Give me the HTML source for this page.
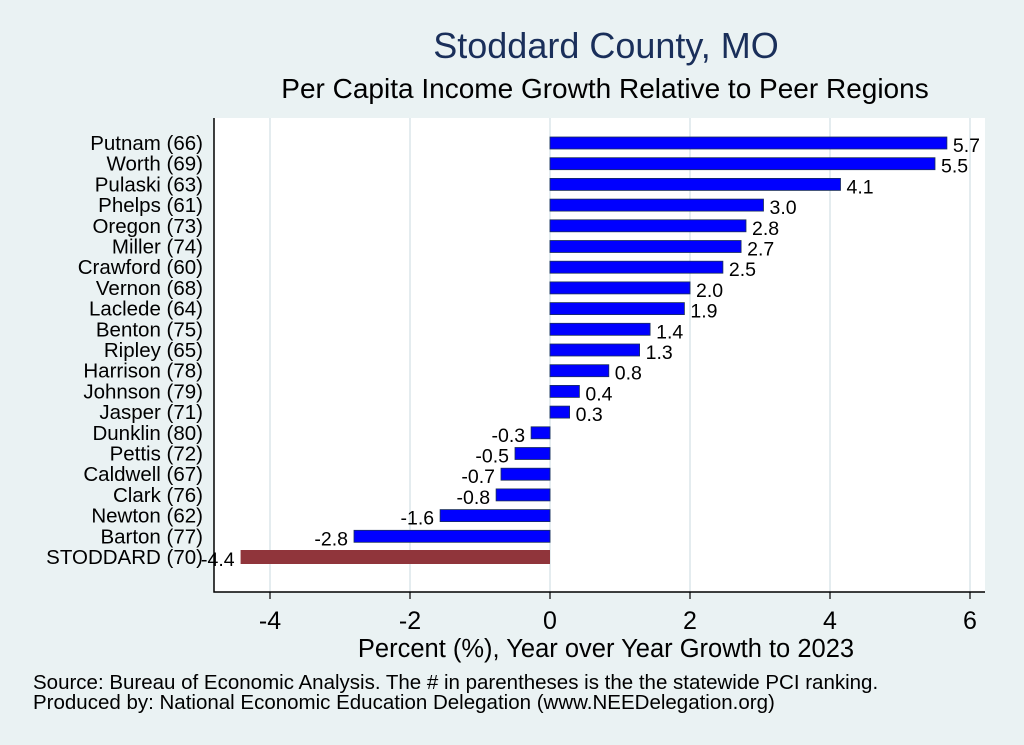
<!DOCTYPE html>
<html><head><meta charset="utf-8"><style>
body{margin:0;background:#eaf2f3;font-family:"Liberation Sans",sans-serif;}
svg{display:block}
</style></head><body>
<svg id="c" width="1024" height="745" xmlns="http://www.w3.org/2000/svg">
<rect x="0" y="0" width="1024" height="745" fill="#eaf2f3"/>
<text x="606" y="58" font-size="36" fill="#1a2f5a" text-anchor="middle" font-family="Liberation Sans">Stoddard County, MO</text>
<text x="605" y="98" font-size="28" fill="#000" text-anchor="middle" font-family="Liberation Sans">Per Capita Income Growth Relative to Peer Regions</text>
<rect x="214" y="118" width="771" height="474" fill="#fff"/>
<g id="grid"></g><g id="bars"></g><g id="axes"></g>
<text x="606" y="657" font-size="25.5" text-anchor="middle" font-family="Liberation Sans">Percent (%), Year over Year Growth to 2023</text>
<text x="33" y="689" font-size="20.5" font-family="Liberation Sans">Source: Bureau of Economic Analysis. The # in parentheses is the the statewide PCI ranking.</text>
<text x="33" y="709" font-size="20.5" font-family="Liberation Sans">Produced by: National Economic Education Delegation (www.NEEDelegation.org)</text>
</svg>
<script>
const categories=["Putnam (66)","Worth (69)","Pulaski (63)","Phelps (61)","Oregon (73)","Miller (74)","Crawford (60)","Vernon (68)","Laclede (64)","Benton (75)","Ripley (65)","Harrison (78)","Johnson (79)","Jasper (71)","Dunklin (80)","Pettis (72)","Caldwell (67)","Clark (76)","Newton (62)","Barton (77)","STODDARD (70)"];
const values=[5.67,5.5,4.15,3.05,2.8,2.73,2.47,2.0,1.92,1.43,1.28,0.84,0.42,0.28,-0.27,-0.5,-0.7,-0.77,-1.57,-2.8,-4.42];
const labels=["5.7","5.5","4.1","3.0","2.8","2.7","2.5","2.0","1.9","1.4","1.3","0.8","0.4","0.3","-0.3","-0.5","-0.7","-0.8","-1.6","-2.8","-4.4"];
const xTicks=[-4,-2,0,2,4,6];
const NS="http://www.w3.org/2000/svg";
function x(v){return 550+v*70;}
function y(i){return 143+i*20.7;}
function mk(t,a,p){const e=document.createElementNS(NS,t);for(const k in a)e.setAttribute(k,a[k]);p.appendChild(e);return e;}
const grid=document.getElementById('grid'),bars=document.getElementById('bars'),axes=document.getElementById('axes');
xTicks.forEach(t=>{
 const g=mk('line',{x1:x(t),x2:x(t),y1:118,y2:592,stroke:'#e4ecef','stroke-width':2},grid);
 
 
 const tk=mk('line',{x1:x(t),x2:x(t),y1:592,y2:599,stroke:'#000','stroke-width':1.2},axes);
 
 
 const tl=mk('text',{x:x(t),y:629,'font-size':25,'text-anchor':'middle','font-family':'Liberation Sans'},axes);
 tl.textContent=String(t);
 
 
});
categories.forEach((c,i)=>{
 const v=values[i],last=i===categories.length-1;
 const h=last?14:12;
 const r=mk('rect',{x:Math.min(x(0),x(v)),y:y(i)-h/2,width:Math.abs(x(v)-x(0)),height:h,fill:last?'#90353b':'#0000ff',stroke:last?'none':'#1a2f5a','stroke-width':0.8},bars);
 
 
 const vl=mk('text',{x:v>=0?x(v)+6:x(v)-6,y:y(i)+9,'font-size':19.5,'text-anchor':v>=0?'start':'end','font-family':'Liberation Sans'},bars);
 vl.textContent=labels[i];
 
 
 const cl=mk('text',{x:203,y:y(i)+7,'font-size':20.5,'text-anchor':'end','font-family':'Liberation Sans'},axes);
 cl.textContent=c;
 
 
});
const ax=mk('path',{d:'M214,118 L214,592 L985,592',fill:'none',stroke:'#000','stroke-width':1.5},axes);


</script>
</body></html>
